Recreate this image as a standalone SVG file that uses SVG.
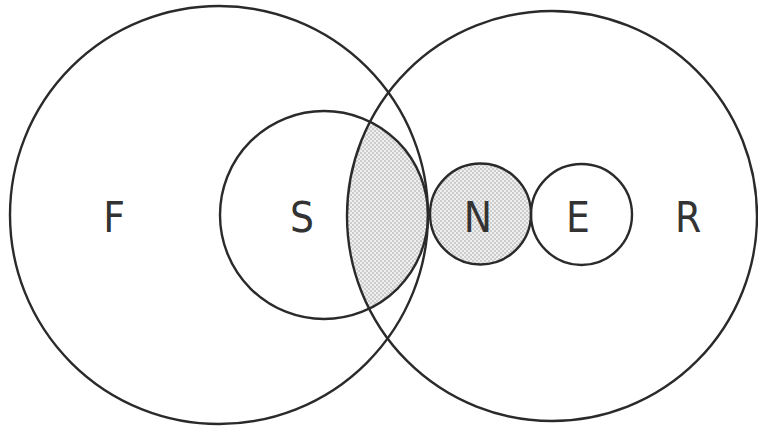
<svg xmlns="http://www.w3.org/2000/svg" width="758" height="427" viewBox="0 0 758 427">
<style>
.c{fill:none;stroke:#2a2a2a;stroke-width:2.4}
.t{font-family:"DejaVu Sans","Liberation Sans",sans-serif;font-stretch:condensed;font-size:42px;fill:#333;text-anchor:middle}
</style>
<defs>
<pattern id="dots" width="4" height="4" patternUnits="userSpaceOnUse">
<rect width="4" height="4" fill="#efefef"/>
<circle cx="1" cy="1" r="0.75" fill="#999"/>
<circle cx="3" cy="3" r="0.75" fill="#999"/>
</pattern>
<clipPath id="clipS"><circle cx="324" cy="215" r="104"/></clipPath>
</defs>
<rect width="758" height="427" fill="#fff"/>
<g id="shading">
<circle cx="552" cy="216" r="205" fill="url(#dots)" clip-path="url(#clipS)"/>
</g>
<g id="F">
<circle class="c" cx="219" cy="215" r="209"/>
<text class="t" x="114" y="232">F</text>
</g>
<g id="R">
<circle class="c" cx="552" cy="216" r="205"/>
<text class="t" x="688" y="232">R</text>
</g>
<g id="S">
<circle class="c" cx="324" cy="215" r="104"/>
<text class="t" x="302" y="232">S</text>
</g>
<g id="N">
<circle cx="480.5" cy="214" r="50.5" fill="url(#dots)" stroke="#2a2a2a" stroke-width="2.4"/>
<text class="t" x="478" y="232">N</text>
</g>
<g id="E">
<circle class="c" cx="581.5" cy="214.5" r="50.5"/>
<text class="t" x="578" y="232">E</text>
</g>
</svg>
